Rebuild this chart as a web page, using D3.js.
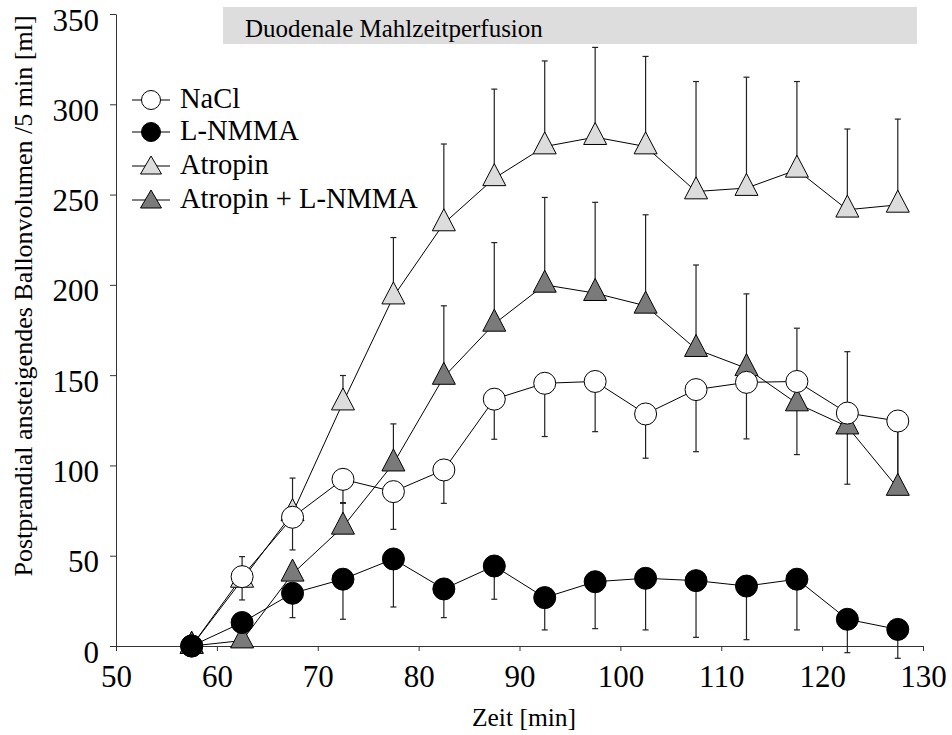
<!DOCTYPE html>
<html><head><meta charset="utf-8">
<script src="https://cdn.jsdelivr.net/npm/d3@7"></script>
<style>
html,body{margin:0;padding:0;background:#fff;}
text{font-family:"Liberation Serif","Times New Roman",serif;fill:#000;}
</style></head>
<body>
<svg id="chart" width="952" height="735"></svg>
<script>
// ---- data ----
const times = [57.5, 62.5, 67.5, 72.5, 77.5, 82.5, 87.5, 92.5, 97.5, 102.5, 107.5, 112.5, 117.5, 122.5, 127.5];
const naclValues     = [0, 38.4, 71.3, 92.3, 85.5, 97.5, 136.7, 145.5, 146.5, 128.5, 142, 146, 146.5, 129, 124.6];
const naclErr        = [0, -12.9, -18.1, -12.9, -20.9, -18.5, -22.2, -29.5, -27.8, -24.5, -34.4, -31.3, 29.5, 34, -32.6];
const lnmmaValues    = [0, 13, 29.2, 37, 48.2, 31.6, 44.3, 26.8, 35.6, 37.5, 36.2, 33.2, 37, 14.8, 9.2];
const lnmmaErr       = [0, 0, -13.5, -22.2, -26.6, -15.9, -18.4, -17.9, -26, -28.6, -31.4, -29.7, -28.1, -18.5, -16];
const atropinValues  = [0, 36.6, 73.5, 134.8, 193.5, 234, 259, 276.6, 281.8, 276.6, 251.7, 253.6, 263.7, 241.6, 244.3];
const atropinErr     = [0, 12.9, 19.5, 15, 32.7, 44, 49.4, 47.4, 49.7, 49.9, 60.9, 61.4, 48.9, 44.7, 47.5];
const atrLnValues    = [0, 3, 40, 66, 101, 149, 178.4, 200, 195.4, 188.4, 164.4, 153.8, 134.3, 121.5, 87.5];
const atrLnErr       = [0, 0, 0, 13, 22, 39.4, 45, 48.4, 50.3, 50.4, 46.6, 41.2, -28.3, -31.9, 32];
const seriesNames    = ["NaCl", "L-NMMA", "Atropin", "Atropin + L-NMMA"];
const xTicks = [50, 60, 70, 80, 90, 100, 110, 120, 130];
const yTicks = [0, 50, 100, 150, 200, 250, 300, 350];
const titleText = "Duodenale Mahlzeitperfusion";
const xLabel = "Zeit [min]";
const yLabel = "Postprandial ansteigendes Ballonvolumen /5 min [ml]";

// ---- layout ----
const svg = d3.select("#chart");
const pLeft = 116, pRight = 923, pTop = 14, pBottom = 646;
const x = d3.scaleLinear().domain([50, 130]).range([pLeft, pRight]);
const y = d3.scaleLinear().domain([0, 350]).range([pBottom, pTop]);

const series = [
  {name: seriesNames[0], values: naclValues, err: naclErr, shape: "circle", fill: "#ffffff"},
  {name: seriesNames[1], values: lnmmaValues, err: lnmmaErr, shape: "circle", fill: "#000000"},
  {name: seriesNames[2], values: atropinValues, err: atropinErr, shape: "triangle", fill: "#dcdcdc"},
  {name: seriesNames[3], values: atrLnValues, err: atrLnErr, shape: "triangle", fill: "#7a7a7a"}
];

// title box
svg.append("rect").attr("x", 223).attr("y", 7).attr("width", 694).attr("height", 37).attr("fill", "#dddddd");
svg.append("text").attr("x", 245).attr("y", 37).attr("font-size", 25).text(titleText);

// axes
const yAxis = svg.append("g").attr("transform", `translate(${pLeft},0)`)
  .call(d3.axisLeft(y).tickValues(yTicks).tickSize(6).tickSizeOuter(0).tickFormat(d3.format("d")));
yAxis.selectAll("text").attr("x", -17).attr("dy", "0.52em").attr("font-size", 31)
  .style("font-family", '"Liberation Serif","Times New Roman",serif');
const xAxis = svg.append("g").attr("transform", `translate(0,${pBottom})`)
  .call(d3.axisBottom(x).tickValues(xTicks).tickSize(5).tickSizeOuter(0).tickFormat(d3.format("d")));
xAxis.selectAll("text").attr("y", 19).attr("font-size", 31)
  .style("font-family", '"Liberation Serif","Times New Roman",serif');
svg.selectAll(".domain, .tick line").attr("stroke", "#333").attr("stroke-width", 1);

// axis labels
svg.append("text").attr("x", 524).attr("y", 726).attr("text-anchor", "middle").attr("font-size", 25.5).text(xLabel);
svg.append("text").attr("transform", "translate(32,296) rotate(-90)").attr("text-anchor", "middle")
  .attr("font-size", 26).text(yLabel);

// marker helpers
function triPath(w, h) {
  return `M0,${-2*h/3}L${w/2},${h/3}L${-w/2},${h/3}Z`;
}
function drawMarker(g, s, cx, cy, small) {
  if (s.shape === "circle") {
    g.append("circle").attr("cx", cx).attr("cy", cy).attr("r", small ? 9.5 : 11)
      .attr("fill", s.fill).attr("stroke", "#000").attr("stroke-width", 1);
  } else {
    g.append("path").attr("d", small ? triPath(21, 18) : triPath(23, 22))
      .attr("transform", `translate(${cx},${cy})`)
      .attr("fill", s.fill).attr("stroke", "#000").attr("stroke-width", 1);
  }
}

// error bars
const errG = svg.append("g");
series.forEach(s => {
  times.forEach((t, i) => {
    const e = s.err[i];
    if (!e) return;
    const px = x(t), y0 = y(s.values[i]), y1 = y(s.values[i] + e);
    errG.append("line").attr("x1", px).attr("x2", px).attr("y1", y0).attr("y2", y1)
      .attr("stroke", "#222").attr("stroke-width", 1.2);
    errG.append("line").attr("x1", px - 3).attr("x2", px + 3).attr("y1", y1).attr("y2", y1)
      .attr("stroke", "#222").attr("stroke-width", 1.2);
  });
});

// lines
const line = d3.line().x((d, i) => x(times[i])).y(d => y(d));
series.forEach(s => {
  svg.append("path").datum(s.values).attr("d", line).attr("fill", "none")
    .attr("stroke", "#000").attr("stroke-width", 1);
});

// markers
const order = [2, 3, 0, 1];
order.forEach(k => {
  const s = series[k];
  const g = svg.append("g");
  times.forEach((t, i) => drawMarker(g, s, x(t), y(s.values[i]), false));
});

// legend
const legY = [100, 132, 166, 200];
series.forEach((s, i) => {
  const g = svg.append("g");
  g.append("line").attr("x1", 132).attr("x2", 170).attr("y1", legY[i]).attr("y2", legY[i])
    .attr("stroke", "#000").attr("stroke-width", 1);
  drawMarker(g, s, 151, legY[i] + (s.shape === "triangle" ? 2 : 0), true);
  g.append("text").attr("x", 180).attr("y", legY[i] + 8).attr("font-size", 28.5).text(s.name);
});
</script>
</body></html>
